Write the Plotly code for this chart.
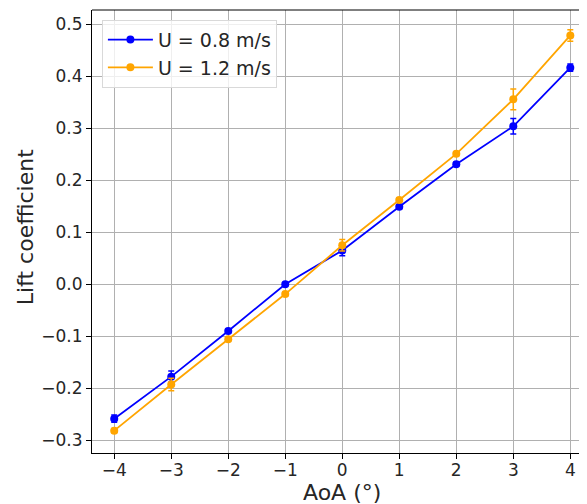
import plotly.graph_objects as go

aoa = [-4, -3, -2, -1, 0, 1, 2, 3, 4]
cl_u08 = [-0.259, -0.178, -0.090, 0.000, 0.065, 0.149, 0.231, 0.304, 0.417]
err_u08 = [0.007, 0.011, 0.004, 0.003, 0.010, 0.004, 0.004, 0.015, 0.007]
cl_u12 = [-0.282, -0.193, -0.106, -0.019, 0.075, 0.162, 0.251, 0.356, 0.479]
err_u12 = [0.004, 0.012, 0.004, 0.004, 0.011, 0.004, 0.004, 0.020, 0.011]
x_ticks = [-4, -3, -2, -1, 0, 1, 2, 3, 4]
y_ticks = [-0.3, -0.2, -0.1, 0.0, 0.1, 0.2, 0.3, 0.4, 0.5]
y_ticklabels = ["\u22120.3", "\u22120.2", "\u22120.1", "0.0", "0.1", "0.2", "0.3", "0.4", "0.5"]
x_ticklabels = ["\u22124", "\u22123", "\u22122", "\u22121", "0", "1", "2", "3", "4"]

font = "DejaVu Sans"
fig = go.Figure()
for name, y, e, c in [("U = 0.8 m/s", cl_u08, err_u08, "blue"),
                      ("U = 1.2 m/s", cl_u12, err_u12, "orange")]:
    fig.add_trace(go.Scatter(
        x=aoa, y=y, name=name, mode="lines+markers",
        line=dict(color=c, width=1.8),
        marker=dict(color=c, size=8),
        error_y=dict(type="data", array=e, visible=True, color=c, thickness=1.5, width=3),
    ))

# page body has an 8px default margin, so the figure is offset by 8px
fig.update_layout(
    width=579, height=496,
    margin=dict(l=84, r=0, t=2, b=51),
    paper_bgcolor="white", plot_bgcolor="white",
    font=dict(family=font, size=17, color="#262626"),
    legend=dict(x=0.02, y=0.978, xanchor="left", yanchor="top", itemwidth=45,
                bgcolor="rgba(255,255,255,0.8)", bordercolor="#d9d9d9", borderwidth=1,
                font=dict(size=19, color="#262626")),
    xaxis=dict(range=[-4.39, 4.293], tickmode="array", tickvals=x_ticks, ticktext=x_ticklabels,
               showgrid=True, gridcolor="#b0b0b0", gridwidth=1, zeroline=False,
               showline=True, linecolor="black", linewidth=1, automargin=False,
               ticks="outside", ticklen=5, tickcolor="black", ticklabelstandoff=-3),
    yaxis=dict(range=[-0.325, 0.528], tickmode="array", tickvals=y_ticks, ticktext=y_ticklabels,
               showgrid=True, gridcolor="#b0b0b0", gridwidth=1, zeroline=False,
               showline=True, linecolor="black", linewidth=1, automargin=False,
               ticks="outside", ticklen=5, tickcolor="black"),
    shapes=[dict(type="line", xref="paper", yref="paper", x0=0, x1=1, y0=1, y1=1,
                 line=dict(color="black", width=1))],
    annotations=[
        dict(text="AoA (°)", xref="x", x=0, yref="paper", y=-0.09, yanchor="middle",
             showarrow=False, font=dict(size=22, color="#262626")),
        dict(text="Lift coefficient", xref="paper", x=-0.135, xanchor="center",
             yref="paper", y=0.510, yanchor="middle", textangle=-90,
             showarrow=False, font=dict(size=22, color="#262626")),
    ],
)
fig.write_html("out.html")
